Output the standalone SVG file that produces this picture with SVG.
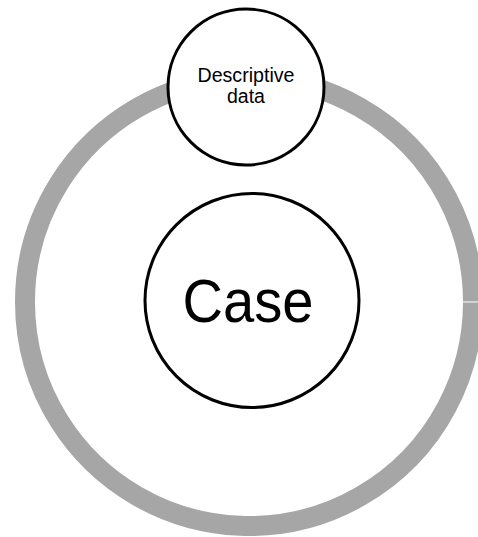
<svg xmlns="http://www.w3.org/2000/svg" width="478" height="537" viewBox="0 0 478 537">
<style>
.ring{fill:none;stroke:#a6a6a6;stroke-width:20}
.node{fill:#ffffff;stroke:#000000;stroke-width:3}
.lbl{font-family:"Liberation Sans",Arial,sans-serif;fill:#000000;text-anchor:middle}
</style>
<rect width="478" height="537" fill="#ffffff"/>
<g id="connectors">
<path class="ring" d="M 473 302.6 A 224 224 0 1 1 473 301.4"/>
</g>
<g id="case">
<circle class="node" cx="252" cy="300.5" r="107"/>
<text class="lbl" x="248" y="322" font-size="62" textLength="131" lengthAdjust="spacingAndGlyphs">Case</text>
</g>
<g id="descriptive-data">
<circle class="node" cx="246" cy="87" r="78"/>
<text class="lbl" x="246" y="82" font-size="19.5" textLength="97" lengthAdjust="spacingAndGlyphs">Descriptive</text>
<text class="lbl" x="246" y="103" font-size="19.5">data</text>
</g>
</svg>
